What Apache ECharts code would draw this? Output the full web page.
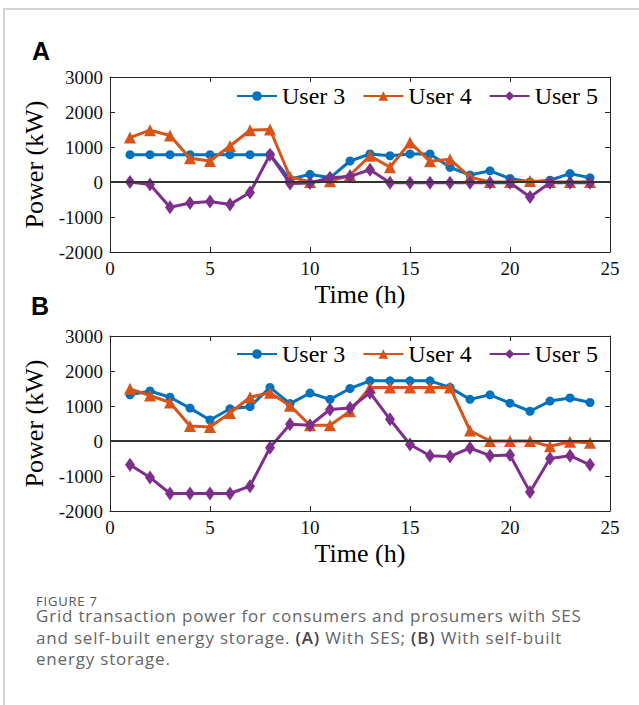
<!DOCTYPE html>
<html>
<head>
<meta charset="utf-8">
<script src="https://cdn.jsdelivr.net/npm/echarts@6/dist/echarts.min.js"></script>
<style>
  html, body { margin: 0; padding: 0; background: #fff; width: 639px; height: 705px; overflow: hidden; }
  #frame { position: absolute; left: 3px; top: 8px; width: 640px; height: 700px; border-top: 2px solid #d2d2d2; border-left: 2px solid #d2d2d2; }
  #chart { position: absolute; left: 0; top: 0; width: 639px; height: 705px; }
  .panel { position: absolute; font-family: 'Liberation Sans', Arial, sans-serif; font-weight: bold; font-size: 25px; color: #000; }
  #caption { position: absolute; left: 36px; top: 595px; font-family: 'Open Sans', sans-serif; font-size: 17px; line-height: 21.5px; letter-spacing: 0.8px; color: #666; white-space: nowrap; }
  #caption .fig { display: block; font-size: 13px; line-height: 12px; margin-bottom: -2px; color: #555; }
  #caption b { font-weight: 600; color: #444; }
</style>
</head>
<body>
<div id="frame"></div>
<div id="chart"></div>
<div class="panel" style="left:32px; top:37px;">A</div>
<div class="panel" style="left:31px; top:292px;">B</div>
<div id="caption"><span class="fig">FIGURE 7</span>Grid transaction power for consumers and prosumers with SES<br>and self-built energy storage. <b>(A)</b> With SES; <b>(B)</b> With self-built<br>energy storage.</div>
<script>
// ---- Data ----
const hours = [1,2,3,4,5,6,7,8,9,10,11,12,13,14,15,16,17,18,19,20,21,22,23,24];
const seriesNames = ['User 3', 'User 4', 'User 5'];
const xTicks = [0, 5, 10, 15, 20, 25];
const yTicks = [-2000, -1000, 0, 1000, 2000, 3000];

// Panel A: with SES
const aUser3 = [780,780,780,780,780,780,780,780,80,220,120,600,800,750,800,800,420,200,320,100,0,50,240,120];
const aUser4 = [1270,1480,1330,680,600,1030,1480,1500,150,0,20,200,750,420,1130,590,650,140,0,0,30,0,0,0];
const aUser5 = [0,-70,-720,-600,-560,-640,-300,780,-40,-30,120,160,350,-20,-20,-20,-20,-20,-20,-20,-430,-20,-20,-20];

// Panel B: with self-built energy storage
const bUser3 = [1320,1430,1250,940,600,920,980,1530,1070,1370,1190,1500,1720,1720,1720,1720,1530,1190,1320,1080,850,1140,1230,1100];
const bUser4 = [1490,1300,1100,430,400,800,1250,1380,1010,450,450,850,1530,1530,1530,1530,1530,300,0,0,0,-150,-20,-50];
const bUser5 = [-680,-1040,-1500,-1500,-1500,-1500,-1290,-190,480,450,900,940,1380,620,-100,-420,-440,-200,-420,-400,-1460,-500,-420,-680];

// ---- Styling ----
const colors = ['#0072BD', '#D95319', '#7E2F8E'];
const symbols = ['circle', 'triangle', 'diamond'];
const symbolSizes = [9, 12, [10, 14]];
const serif = "'Liberation Serif', 'Times New Roman', serif";
const axisColor = '#262626';

const grids = [
  { left: 110, top: 77, width: 500, height: 175 },
  { left: 110, top: 336, width: 500, height: 175 }
];

function pairs(vals) { return hours.map((h, i) => [h, vals[i]]); }
const plain = v => String(v);

const xMin = xTicks[0], xMax = xTicks[xTicks.length - 1], xInt = xTicks[1] - xTicks[0];
const yMin = yTicks[0], yMax = yTicks[yTicks.length - 1], yInt = yTicks[1] - yTicks[0];

const xAxes = [], yAxes = [];
[0, 1].forEach(g => {
  xAxes.push({
    type: 'value', gridIndex: g, position: 'bottom', min: xMin, max: xMax, interval: xInt,
    name: 'Time (h)', nameLocation: 'middle', nameGap: 29,
    nameTextStyle: { fontFamily: serif, fontSize: 26, color: '#000' },
    axisLine: { show: true, onZero: false, lineStyle: { color: axisColor, width: 1 } },
    axisTick: { show: true, inside: true, length: 5, lineStyle: { color: axisColor } },
    axisLabel: { show: true, margin: 7, formatter: plain, fontFamily: serif, fontSize: 19, color: '#111', showMinLabel: true, showMaxLabel: true, hideOverlap: false },
    splitLine: { show: false }
  });
  xAxes.push({
    type: 'value', gridIndex: g, position: 'top', min: xMin, max: xMax, interval: xInt,
    axisLine: { show: true, onZero: false, lineStyle: { color: axisColor, width: 1 } },
    axisTick: { show: true, inside: true, length: 5, lineStyle: { color: axisColor } },
    axisLabel: { show: false }, splitLine: { show: false }
  });
  yAxes.push({
    type: 'value', gridIndex: g, position: 'left', min: yMin, max: yMax, interval: yInt,
    name: 'Power (kW)', nameLocation: 'middle', nameGap: 44,
    nameTextStyle: { fontFamily: serif, fontSize: 26, color: '#000' },
    axisLine: { show: true, onZero: false, lineStyle: { color: axisColor, width: 1 } },
    axisTick: { show: true, inside: true, length: 5, lineStyle: { color: axisColor } },
    axisLabel: { show: true, margin: 7, formatter: plain, fontFamily: serif, fontSize: 19, color: '#111', showMinLabel: true, showMaxLabel: true, hideOverlap: false },
    splitLine: { show: false }
  });
  yAxes.push({
    type: 'value', gridIndex: g, position: 'right', min: yMin, max: yMax, interval: yInt,
    axisLine: { show: true, onZero: false, lineStyle: { color: axisColor, width: 1 } },
    axisTick: { show: true, inside: true, length: 5, lineStyle: { color: axisColor } },
    axisLabel: { show: false }, splitLine: { show: false }
  });
});

const panelData = [[aUser3, aUser4, aUser5], [bUser3, bUser4, bUser5]];
const series = [];
panelData.forEach((set, g) => {
  set.forEach((vals, k) => {
    const s = {
      name: seriesNames[k], type: 'line',
      xAxisIndex: g * 2, yAxisIndex: g * 2,
      data: pairs(vals),
      symbol: symbols[k], symbolSize: symbolSizes[k], showSymbol: true,
      lineStyle: { color: colors[k], width: 3 },
      itemStyle: { color: colors[k], borderColor: colors[k], borderWidth: 0 },
      emphasis: { disabled: true },
      z: 3 + k
    };
    if (k === 2) {
      s.markLine = {
        silent: true, symbol: ['none', 'none'],
        label: { show: false },
        lineStyle: { color: '#333', width: 2, type: 'solid' },
        data: [{ yAxis: 0 }],
        z: 10
      };
    }
    series.push(s);
  });
});

const legendBase = {
  data: seriesNames, orient: 'horizontal', padding: 0,
  itemWidth: 40, itemHeight: 12, itemGap: 17,
  textStyle: { fontFamily: serif, fontSize: 24, color: '#000' },
  selectedMode: false
};

const option = {
  animation: false,
  backgroundColor: 'transparent',
  grid: grids.map(g => Object.assign({ outerBoundsMode: 'none', containLabel: false }, g)),
  xAxis: xAxes,
  yAxis: yAxes,
  legend: [
    Object.assign({ left: 236, top: 84 }, legendBase),
    Object.assign({ left: 236, top: 342 }, legendBase)
  ],
  series: series
};

const chart = echarts.init(document.getElementById('chart'), null, { renderer: 'svg', width: 639, height: 705 });
chart.setOption(option);
</script>
</body>
</html>
